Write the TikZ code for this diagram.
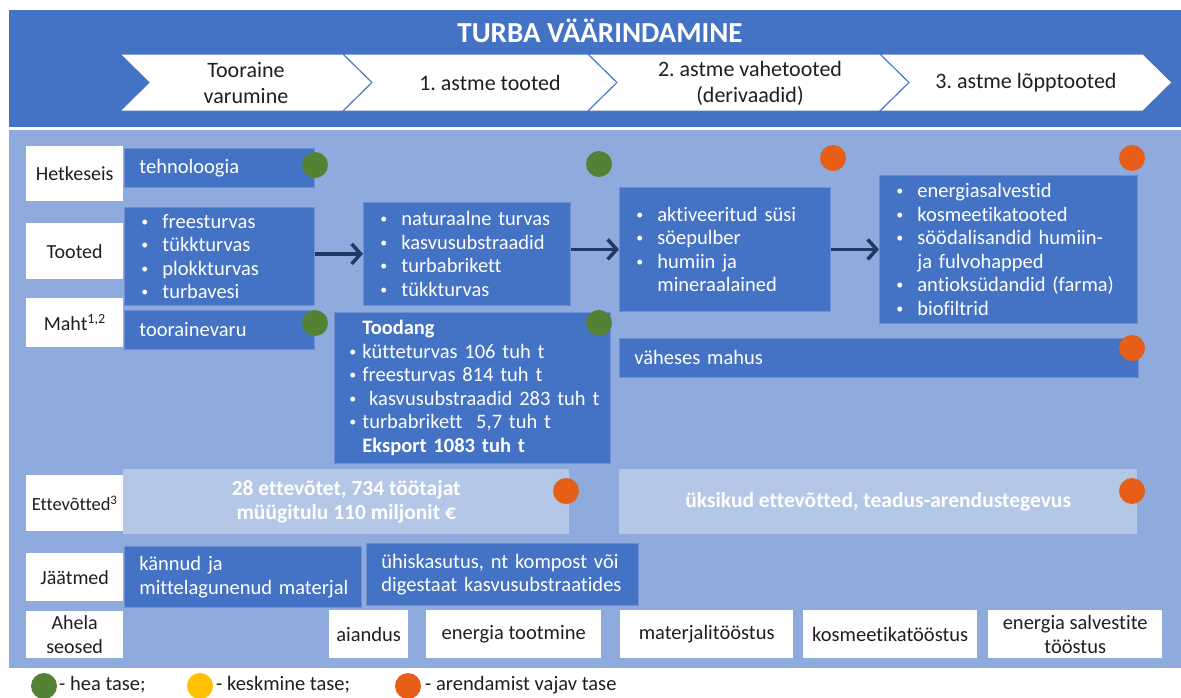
\documentclass[tikz,border=0pt]{standalone}
\usepackage{fontspec}
\setmainfont{Carlito}[Ligatures=NoCommon]
\usetikzlibrary{arrows.meta}
\frenchspacing

\definecolor{bandblue}{HTML}{4472C4}
\definecolor{areablue}{HTML}{8FAADC}
\definecolor{paleblue}{HTML}{B4C7E7}
\definecolor{edgeblue}{HTML}{6E8FD3}
\definecolor{navy}{HTML}{203864}
\definecolor{goodgreen}{HTML}{548235}
\definecolor{midyellow}{HTML}{FFC000}
\definecolor{needorange}{HTML}{E65E17}
\definecolor{ink}{HTML}{1F1F1F}

\newcommand\bodyfont{\fontsize{20.5}{23.5}\selectfont}
\newcommand\labelfont{\fontsize{20}{23.5}\selectfont}
\newcommand\chevfont{\fontsize{22}{26}\selectfont}
% small list bullet
\newcommand\dotmark{\raisebox{2pt}{\fontsize{14}{14}\selectfont\textbullet}}
% list lines: bullet with hanging indent, kept on one line each
\newcommand\li[1]{\mbox{\makebox[23pt][l]{\hspace*{2pt}\dotmark}#1}}
\newcommand\lihang[1]{\mbox{\hspace*{23pt}#1}}
\newcommand\sli[1]{\mbox{\makebox[14pt][l]{\hspace*{1pt}\dotmark}#1}}
\newcommand\slihang[1]{\mbox{\hspace*{14pt}#1}}

\tikzset{
  bluebox/.style={fill=bandblue, draw=edgeblue, line width=0.8pt, text=white,
    anchor=north west, inner xsep=15pt, inner ysep=0pt, align=left, font=\bodyfont},
  palebox/.style={fill=paleblue, text=white, anchor=north west, inner sep=0pt,
    align=center, font=\fontsize{21.5}{24}\selectfont\bfseries},
  rowlabel/.style={fill=white, text=ink, anchor=north west, inner sep=0pt,
    align=center, font=\labelfont, minimum width=97pt},
  linkbox/.style={fill=white, text=ink, anchor=north west, inner sep=0pt,
    align=center, font=\bodyfont, minimum height=48pt},
  chevtext/.style={text=ink, align=center, font=\chevfont},
  chevshape/.style={fill=white, draw=bandblue, line width=1pt, line join=miter},
  dot/.style={circle, inner sep=0pt, minimum size=26pt},
  flow/.style={draw=navy, line width=3.5pt, -{Straight Barb[length=9pt,width=20pt]}},
  legendtext/.style={anchor=west, text=ink, font=\bodyfont, inner sep=0pt}
}

\begin{document}
\begin{tikzpicture}[x=1pt,y=-1pt]
\useasboundingbox (0,0) rectangle (1181,697);

% header band and body area
\fill[bandblue] (9,10) rectangle (1181,127);
\fill[areablue] (9,130) rectangle (1181,668);

\node[text=white, font=\fontsize{29}{32}\selectfont\bfseries] (title) at (600,31) {TURBA VÄÄRINDAMINE};

% process chevrons
\draw[chevshape] (120,54) -- (343,54) -- (372,82.5) -- (343,111) -- (120,111) -- (149,82.5) -- cycle;
\draw[chevshape] (343,54) -- (588,54) -- (617,82.5) -- (588,111) -- (343,111) -- (372,82.5) -- cycle;
\draw[chevshape] (588,54) -- (880,54) -- (909,82.5) -- (880,111) -- (588,111) -- (617,82.5) -- cycle;
\draw[chevshape] (880,54) -- (1143,54) -- (1172,82.5) -- (1143,111) -- (880,111) -- (909,82.5) -- cycle;

\node[chevtext] (stage0) at (246,83) {Tooraine\\varumine};
\node[chevtext] (stage1) at (490,83) {1. astme tooted};
\node[chevtext] (stage2) at (750,83) {2. astme vahetooted\\(derivaadid)};
\node[chevtext] (stage3) at (1026,83) {3. astme lõpptooted};

% row labels
\node[rowlabel, minimum height=55pt] (lHet) at (26,146) {Hetkeseis};
\node[rowlabel, minimum height=56pt] (lToo) at (26,223) {Tooted};
\node[rowlabel, minimum height=49pt] (lMah) at (26,298) {Maht\textsuperscript{1,2}};
\node[rowlabel, minimum height=56pt, font=\fontsize{18.5}{21}\selectfont] (lEtt) at (26,475) {Ettevõtted\textsuperscript{3}};
\node[rowlabel, minimum height=48pt] (lJaa) at (26,553) {Jäätmed};
\node[rowlabel, minimum height=47pt] (lAhe) at (26,611) {Ahela\\seosed};

% product boxes
\node[bluebox, minimum width=190pt, minimum height=39pt, text width=160pt] (tech) at (124,148) {tehnoloogia};
\node[bluebox, minimum width=190pt, minimum height=98pt, text width=160pt] (raw) at (124,207)
  {\li{freesturvas}\\\li{tükkturvas}\\\li{plokkturvas}\\\li{turbavesi}};
\node[bluebox, minimum width=190pt, minimum height=39pt, text width=160pt] (res) at (124,310) {toorainevaru};

\node[bluebox, minimum width=207pt, minimum height=103pt, text width=177pt] (first) at (363,202)
  {\li{naturaalne turvas}\\\li{kasvusubstraadid}\\\li{turbabrikett}\\\li{tükkturvas}};
\node[bluebox, minimum width=276pt, minimum height=151pt, inner xsep=14pt, text width=248pt] (output) at (334,312)
  {\slihang{\textbf{Toodang}}\\
   \sli{kütteturvas 106 tuh t}\\
   \sli{freesturvas 814 tuh t}\\
   \sli{\ kasvusubstraadid 283 tuh t}\\
   \sli{turbabrikett\ \ 5,7 tuh t}\\
   \slihang{\textbf{Eksport 1083 tuh t}}};

\node[bluebox, minimum width=211pt, minimum height=124pt, text width=181pt] (second) at (619,187)
  {\li{aktiveeritud süsi}\\\li{söepulber}\\\li{humiin ja}\\\lihang{mineraalained}};
\node[bluebox, minimum width=258pt, minimum height=148pt, text width=228pt] (third) at (879,175)
  {\li{energiasalvestid}\\\li{kosmeetikatooted}\\\li{söödalisandid humiin-}\\\lihang{ja fulvohapped}\\\li{antioksüdandid (farma)}\\\li{biofiltrid}};
\node[bluebox, minimum width=519pt, minimum height=39pt, text width=489pt] (small) at (619,338) {väheses mahus};

% companies
\node[palebox, minimum width=446pt, minimum height=65pt] (firms) at (123,469)
  {28 ettevõtet, 734 töötajat\\müügitulu 110 miljonit €};
\node[palebox, minimum width=518pt, minimum height=65pt] (rnd) at (619,469)
  {üksikud ettevõtted, teadus-arendustegevus};

% residues
\node[bluebox, minimum width=237pt, minimum height=61pt, text width=207pt] (stumps) at (124,546)
  {\mbox{kännud ja}\\\mbox{mittelagunenud materjal}};
\node[bluebox, minimum width=272pt, minimum height=62pt, text width=242pt] (reuse) at (366,543)
  {\mbox{ühiskasutus, nt kompost või}\\\mbox{digestaat kasvusubstraatides}};

% value chain links
\node[linkbox, minimum width=79pt] (kGarden) at (329,610) {aiandus};
\node[linkbox, minimum width=175pt] (kEnergy) at (426,610) {energia tootmine};
\node[linkbox, minimum width=173pt] (kMat) at (620,610) {materjalitööstus};
\node[linkbox, minimum width=174pt] (kCos) at (803,610) {kosmeetikatööstus};
\node[linkbox, minimum width=174pt] (kStore) at (988,610) {energia salvestite\\tööstus};

% flow arrows
\draw[flow] (first.west -| raw.east) -- (first.west);
\draw[flow] (second.west -| first.east) -- (second.west);
\draw[flow] (second.east) -- (second.east -| third.west);

% level markers
\node[dot, fill=goodgreen] (m1) at (315,165) {};
\node[dot, fill=goodgreen] (m2) at (599,164) {};
\node[dot, fill=needorange] (m3) at (833,158) {};
\node[dot, fill=needorange] (m4) at (1132,158) {};
\node[dot, fill=goodgreen] (m5) at (315,323) {};
\node[dot, fill=goodgreen] (m6) at (599,323) {};
\node[dot, fill=needorange] (m7) at (1132,348) {};
\node[dot, fill=needorange] (m8) at (566,491) {};
\node[dot, fill=needorange] (m9) at (1132,491) {};

% legend
\node[dot, fill=goodgreen] (g1) at (44,686) {};
\node[legendtext] (g1t) at (59,685) {- hea tase;};
\node[dot, fill=midyellow] (g2) at (200,686) {};
\node[legendtext] (g2t) at (216,685) {- keskmine tase;};
\node[dot, fill=needorange] (g3) at (408,686) {};
\node[legendtext] (g3t) at (425,685) {- arendamist vajav tase};
\end{tikzpicture}
\end{document}
